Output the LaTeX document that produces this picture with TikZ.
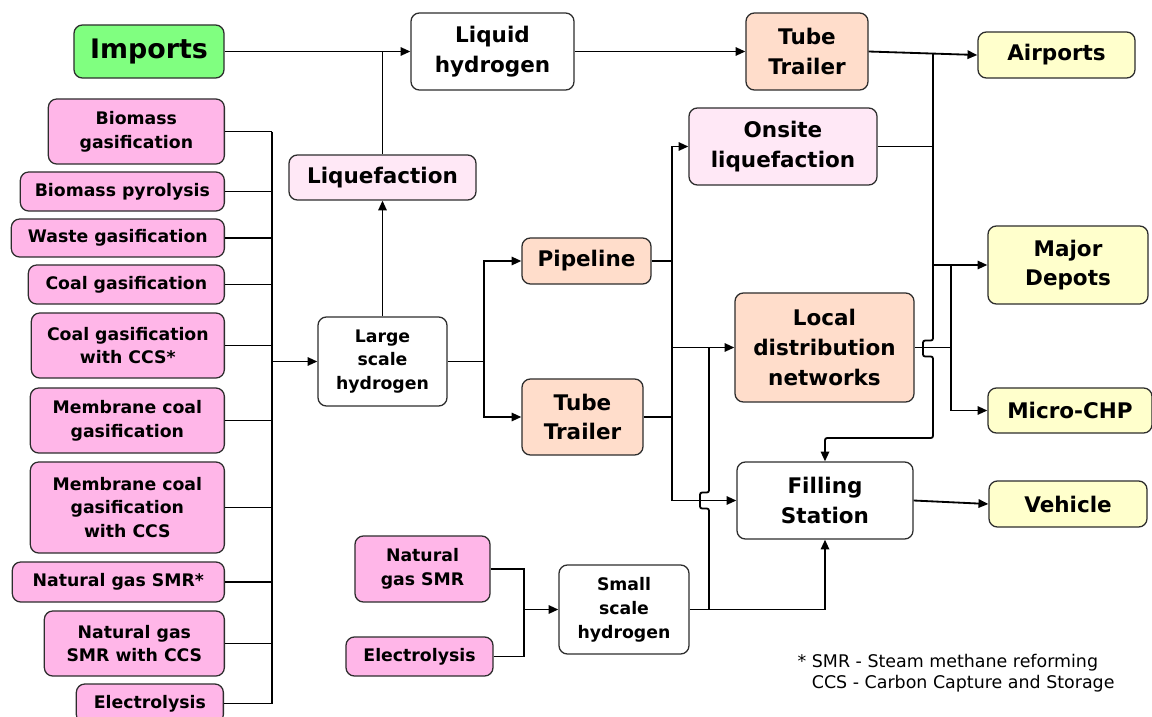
\documentclass[tikz,border=0pt]{standalone}
\usepackage{fontspec}
\setmainfont{DejaVu Sans}
\usepackage{xcolor}
\definecolor{h2green}{RGB}{128,255,128}
\definecolor{h2pink}{RGB}{255,182,232}
\definecolor{h2pale}{RGB}{255,232,246}
\definecolor{h2peach}{RGB}{255,221,203}
\definecolor{h2yellow}{RGB}{255,255,204}
\definecolor{h2edge}{RGB}{45,45,45}
\usetikzlibrary{arrows.meta,positioning,calc}

\begin{document}
\begin{tikzpicture}[
  x=0.025cm, y=-0.025cm,
  every node/.style={rounded corners=6pt, align=center, inner sep=2pt,
                     draw=h2edge, line width=0.9pt},
  small/.style={font=\fontsize{12.3}{17}\selectfont\bfseries},
  large/.style={font=\fontsize{15.3}{21}\selectfont\bfseries},
  src/.style={small, fill=h2pink, anchor=east},
  link/.style={line width=1.3pt},
  flow/.style={link, -{Triangle[length=7pt,width=6pt]}},
]
\useasboundingbox (0,0) rectangle (1152,717);

% Imports (green)
\node[fill=h2green, minimum width=3.75cm, minimum height=1.325cm, font=\fontsize{19.1}{23}\selectfont\bfseries]
      (imp) at (149,51.5) {Imports};

% Large scale production routes (pink)
\node[src, minimum width=4.4cm, minimum height=1.625cm] (bgas) at (225,131.5) {Biomass\\gasification};
\node[src, minimum width=5.1cm, minimum height=0.975cm] (bpyr) at (225,191.5) {Biomass pyrolysis};
\node[src, minimum width=5.325cm, minimum height=0.95cm] (wgas) at (225,238) {Waste gasification};
\node[src, minimum width=4.9cm, minimum height=0.975cm] (cgas) at (225,284.5) {Coal gasification};
\node[src, minimum width=4.825cm, minimum height=1.625cm] (cccs) at (225,345.5) {Coal gasification\\with CCS*};
\node[src, minimum width=4.85cm, minimum height=1.625cm] (mgas) at (225,420.5) {Membrane coal\\gasification};
\node[src, minimum width=4.85cm, minimum height=2.275cm] (mccs) at (225,507.5) {Membrane coal\\gasification\\with CCS};
\node[src, minimum width=5.3cm, minimum height=1.0cm] (nsmr) at (225,582) {Natural gas SMR*};
\node[src, minimum width=4.5cm, minimum height=1.625cm] (nccs) at (225,643.5) {Natural gas\\SMR with CCS};
\node[src, minimum width=3.675cm, minimum height=0.975cm] (elec) at (224,703.5) {Electrolysis};

% Hubs and carriers
\node[small, fill=white, minimum width=3.225cm, minimum height=2.225cm]
      (lsh) at (382.5,361.5) {Large\\scale\\hydrogen};
\node[large, fill=h2pale, minimum width=4.675cm, minimum height=1.125cm]
      (liq) at (382.5,177.5) {Liquefaction};
\node[large, fill=white, minimum width=4.075cm, minimum height=1.925cm]
      (lh2) at (492.5,51.5) {Liquid\\hydrogen};
\node[large, fill=h2peach, minimum width=3.05cm, minimum height=1.925cm]
      (tt1) at (807,51.5) {Tube\\Trailer};
\node[large, fill=h2pale, minimum width=4.7cm, minimum height=1.925cm]
      (ons) at (783,146.5) {Onsite\\liquefaction};
\node[large, fill=h2peach, minimum width=3.225cm, minimum height=1.15cm]
      (pip) at (586.5,261) {Pipeline};
\node[large, fill=h2peach, minimum width=3.025cm, minimum height=1.9cm]
      (tt2) at (582.5,417) {Tube\\Trailer};
\node[large, fill=h2peach, minimum width=4.475cm, minimum height=2.725cm]
      (ldn) at (824.5,347.5) {Local\\distribution\\networks};
\node[large, fill=white, minimum width=4.4cm, minimum height=1.925cm]
      (fil) at (825,500.5) {Filling\\Station};

% End uses (yellow)
\node[large, fill=h2yellow, minimum width=3.925cm, minimum height=1.15cm]
      (air) at (1056.5,55) {Airports};
\node[large, fill=h2yellow, minimum width=4.0cm, minimum height=1.95cm]
      (dep) at (1068,265) {Major\\Depots};
\node[large, fill=h2yellow, minimum width=4.1cm, minimum height=1.125cm]
      (chp) at (1070,410.5) {Micro-CHP};
\node[large, fill=h2yellow, minimum width=3.95cm, minimum height=1.15cm]
      (veh) at (1068,504) {Vehicle};

% Small scale production
\node[src, anchor=center, minimum width=3.375cm, minimum height=1.65cm]
      (ngs2) at (422.5,569) {Natural\\gas SMR};
\node[src, anchor=center, minimum width=3.675cm, minimum height=0.975cm]
      (ele2) at (419.5,656.5) {Electrolysis};
\node[small, fill=white, minimum width=3.25cm, minimum height=2.225cm]
      (ssh) at (624,609.5) {Small\\scale\\hydrogen};

% Footnote
\node[draw=none, fill=none, anchor=west, align=left, inner sep=0pt,
      font=\fontsize{12.4}{15}\selectfont]
      (note) at (797,673.5) {* SMR - Steam methane reforming\\\phantom{* }CCS - Carbon Capture and Storage};

% Junctions
\coordinate (bus) at (272,361.5);
\coordinate (split) at (484,361.5);
\coordinate (dst) at (672,347.5);
\coordinate (mrg) at (524,609.5);
\coordinate (tap) at (709,609.5);
\coordinate (jair) at (933,53.7);
\coordinate (jfil) at (933,438);
\coordinate (trk) at (951,265);

% Sources into the bus
\draw[link] (bgas.east) -- (bgas.east -| bus);
\draw[link] (bpyr.east) -- (bpyr.east -| bus);
\draw[link] (wgas.east) -- (wgas.east -| bus);
\draw[link] (cgas.east) -- (cgas.east -| bus);
\draw[link] (cccs.east) -- (cccs.east -| bus);
\draw[link] (mgas.east) -- (mgas.east -| bus);
\draw[link] (mccs.east) -- (mccs.east -| bus);
\draw[link] (nsmr.east) -- (nsmr.east -| bus);
\draw[link] (nccs.east) -- (nccs.east -| bus);
\draw[link] (elec.east) -- (elec.east -| bus);
\draw[link] (bgas.east -| bus) -- (elec.east -| bus);
\draw[flow] (bus) -- (lsh.west);

% Liquid route
\draw[flow] (lsh.north) -- (liq.south);
\draw[link] (liq.north) -- (liq.north |- imp.east);
\draw[flow] (imp.east) -- (lh2.west);
\draw[flow] (lh2.east) -- (tt1.west);
\draw[flow] (tt1.east) -- (air.west);

% Gas route
\draw[link] (lsh.east) -- (split);
\draw[flow] (split) |- (pip.west);
\draw[flow] (split) |- (tt2.west);
\draw[link] (pip.east) -- (pip.east -| dst);
\draw[link] (tt2.east) -- (tt2.east -| dst);
\draw[flow] (fil.west -| dst) |- (ons.west);
\draw[flow] (dst) -- (ldn.west);
\draw[flow] (fil.west -| dst) -- (fil.west);

% Right hand trunk to end uses
\draw[link] (ons.east) -- (ons.east -| jair);
\draw[flow, rounded corners=1.5pt] (jair) -- ($(ldn.east -| jair)+(0,-7)$) -- ++(-10,0) -- ++(0,16)
      -- ++(10,0) -- (jfil) -| (fil.north);
\draw[flow] (dep.west -| jair) -- (dep.west);
\draw[link] (ldn.east) -- (ldn.east -| trk);
\draw[flow] (trk) |- (chp.west);
\draw[flow] (fil.east) -- (veh.west);

% Small scale route
\draw[link] (ngs2.east) -| (mrg);
\draw[link] (ele2.east) -| (mrg);
\draw[flow] (mrg) -- (ssh.west);
\draw[flow] (ssh.east) -| (fil.south);
\draw[link, rounded corners=1.5pt] (tap) -- ($(fil.west -| tap)+(0,8)$) -- ++(-9,0) -- ++(0,-16)
      -- ++(9,0) -- (ldn.west -| tap);

\end{tikzpicture}
\end{document}
